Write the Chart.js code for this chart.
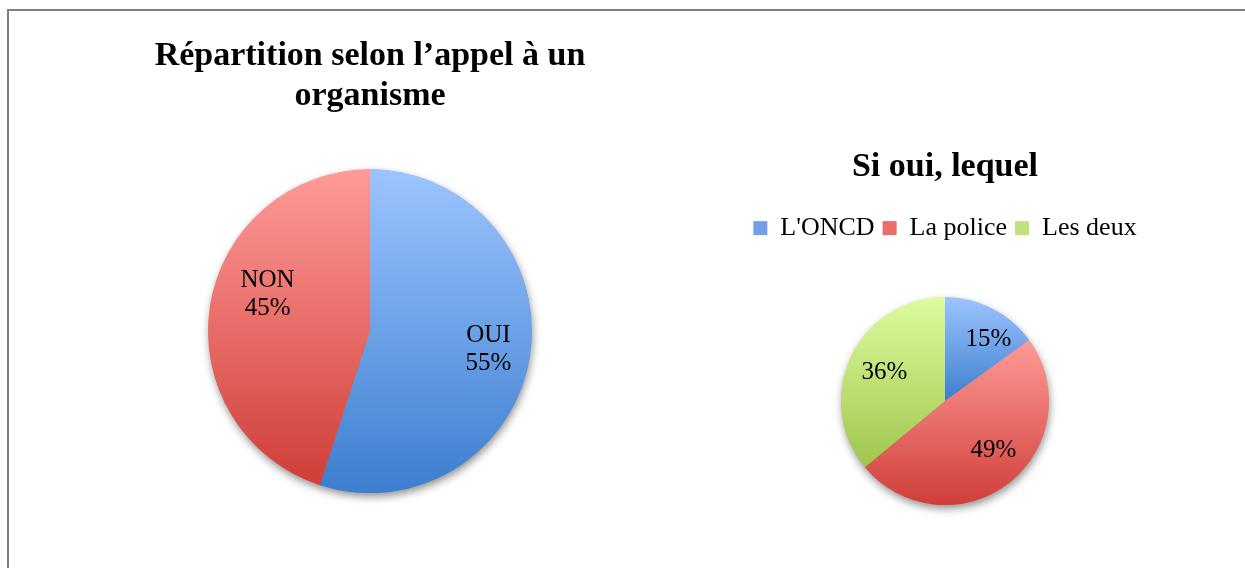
<!DOCTYPE html>
<html>
<head>
<meta charset="utf-8">
<script src="https://cdn.jsdelivr.net/npm/chart.js@4/dist/chart.umd.min.js"></script>
<style>
  html, body { margin: 0; padding: 0; background: #fff; }
  body { width: 1245px; height: 568px; position: relative; overflow: hidden; }
  #frame { position: absolute; left: 7px; top: 9px; right: 0; bottom: 0; border-left: 2px solid #7f7f7f; border-top: 2px solid #7f7f7f; }
  #c1 { position: absolute; left: 0; top: 0; }
  #c2 { position: absolute; left: 745px; top: 0; }
</style>
</head>
<body>
<div id="frame"></div>
<canvas id="c1" width="740" height="568"></canvas>
<canvas id="c2" width="400" height="568"></canvas>
<script>
// left pie
const appelLabels = ['OUI', 'NON'];
const appelValues = [55, 45];
// right pie
const organismeLabels = ["L'ONCD", 'La police', 'Les deux'];
const organismeValues = [15, 49, 36];

const blue = ['#9dc4ff', '#3c7ecf'];
const red = ['#ff9b97', '#d03e39'];
const green = ['#ddfc9e', '#9fc64e'];
const blueMid = '#6fa0e8', redMid = '#ea6d68', greenMid = '#c0e27a';

const titleFont = { family: 'Liberation Serif', size: 34, weight: 'bold', lineHeight: 1.18 };
const labelFont = '25px "Liberation Serif"';

// vertical gradient spanning the slice's own top..bottom (like Excel)
function sliceGradient(palette, mids) {
  return function(ctx) {
    const colors = palette[ctx.dataIndex];
    const mid = mids[ctx.dataIndex];
    const chart = ctx.chart;
    const area = chart.chartArea;
    if (!area) return mid;
    const data = ctx.dataset.data;
    const total = data.reduce((s, v) => s + v, 0);
    let before = 0;
    for (let k = 0; k < ctx.dataIndex; k++) before += data[k];
    const s = -Math.PI / 2 + before / total * 2 * Math.PI;
    const e = s + data[ctx.dataIndex] / total * 2 * Math.PI;
    const cx = (area.left + area.right) / 2, cy = (area.top + area.bottom) / 2;
    const r = ctx.dataset.radius;
    const ys = [cy, cy + r * Math.sin(s), cy + r * Math.sin(e)];
    if (s <= Math.PI / 2 && e >= Math.PI / 2) ys.push(cy + r);
    const g = chart.ctx.createLinearGradient(0, Math.min(...ys), 0, Math.max(...ys));
    g.addColorStop(0, colors[0]);
    g.addColorStop(1, colors[1]);
    return g;
  };
}

const pieShadow = {
  id: 'pieShadow',
  beforeDatasetsDraw(chart) {
    const a = chart.getDatasetMeta(0).data[0];
    if (!a) return;
    const c = chart.ctx;
    c.save();
    c.shadowColor = 'rgba(0,0,0,0.45)';
    c.shadowBlur = 8;
    c.shadowOffsetX = 1;
    c.shadowOffsetY = 4;
    c.beginPath();
    c.arc(a.x, a.y, a.outerRadius - 0.5, 0, Math.PI * 2);
    c.fillStyle = '#888';
    c.fill();
    c.restore();
  }
};

// data labels inside the slices, with small nudges like Excel's best-fit placement
const sliceLabels = {
  id: 'sliceLabels',
  afterDatasetsDraw(chart, args, opts) {
    const c = chart.ctx;
    const meta = chart.getDatasetMeta(0);
    const data = chart.data.datasets[0].data;
    const total = data.reduce((s, v) => s + v, 0);
    c.save();
    c.font = labelFont;
    c.fillStyle = '#000';
    c.textAlign = 'center';
    c.textBaseline = 'middle';
    meta.data.forEach((a, i) => {
      const mid = (a.startAngle + a.endAngle) / 2;
      const d = a.outerRadius * opts.dist;
      const n = opts.nudge[i] || [0, 0];
      const x = a.x + Math.cos(mid) * d + n[0];
      const y = a.y + Math.sin(mid) * d + n[1];
      const pct = Math.round(data[i] / total * 100) + '%';
      const lines = opts.showName ? [chart.data.labels[i], pct] : [pct];
      lines.forEach((t, j) => {
        c.fillText(t, x, y + (j - (lines.length - 1) / 2) * 28);
      });
    });
    c.restore();
  }
};

new Chart(document.getElementById('c1'), {
  type: 'pie',
  data: {
    labels: appelLabels,
    datasets: [{
      data: appelValues,
      radius: 162,
      borderWidth: 0,
      backgroundColor: sliceGradient([blue, red], [blueMid, redMid])
    }]
  },
  options: {
    responsive: false,
    animation: false,
    layout: { padding: { bottom: 75 } },
    plugins: {
      legend: { display: false },
      tooltip: { enabled: false },
      title: {
        display: true,
        text: ['Répartition selon l\u2019appel à un', 'organisme'],
        color: '#000',
        font: titleFont,
        padding: { top: 36, bottom: 53 }
      },
      sliceLabels: { dist: 0.74, showName: true, nudge: [[0, 0], [16, -18]] }
    }
  },
  plugins: [pieShadow, sliceLabels]
});

new Chart(document.getElementById('c2'), {
  type: 'pie',
  data: {
    labels: organismeLabels,
    datasets: [{
      data: organismeValues,
      radius: 104,
      borderWidth: 0,
      backgroundColor: sliceGradient([blue, red, green], [blueMid, redMid, greenMid])
    }]
  },
  options: {
    responsive: false,
    animation: false,
    layout: { padding: { bottom: 17 } },
    plugins: {
      tooltip: { enabled: false },
      title: {
        display: true,
        text: 'Si oui, lequel',
        color: '#000',
        font: titleFont,
        padding: { top: 147, bottom: 20 }
      },
      legend: {
        position: 'top',
        labels: {
          color: '#000',
          font: { family: 'Liberation Serif', size: 26 },
          boxWidth: 14,
          boxHeight: 14,
          padding: 8,
          generateLabels(chart) {
            const mids = [blueMid, redMid, greenMid];
            return chart.data.labels.map((l, i) => ({
              text: l, fillStyle: mids[i], strokeStyle: mids[i], lineWidth: 0, index: i, fontColor: '#000'
            }));
          }
        }
      },
      sliceLabels: { dist: 0.73, showName: false, nudge: [[9, 6], [2, -11], [8, 4]] }
    }
  },
  plugins: [pieShadow, sliceLabels]
});
</script>
</body>
</html>
